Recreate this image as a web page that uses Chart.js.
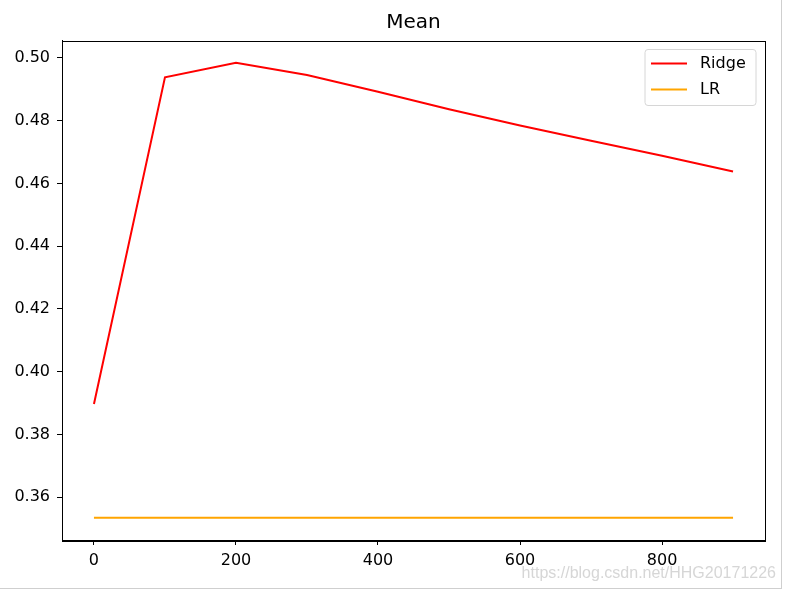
<!DOCTYPE html>
<html>
<head>
<meta charset="utf-8">
<script src="https://cdn.jsdelivr.net/npm/chart.js@4.4.0/dist/chart.umd.min.js"></script>
<style>
html,body{margin:0;padding:0;background:#fff;}
#wrap{position:relative;width:785px;height:590px;}
#wrap:after{content:"";position:absolute;left:0;top:0;width:781px;height:588px;border-right:1px solid #cfcfcf;border-bottom:1px solid #cfcfcf;pointer-events:none;}
canvas{display:block;}
</style>
</head>
<body>
<div id="wrap"><canvas id="c" width="785" height="590"></canvas></div>
<script>
const xValues = [0, 100, 200, 300, 400, 500, 600, 700, 800, 900];
const ridgeValues = [0.3897, 0.4938, 0.4984, 0.4945, 0.4892, 0.4836, 0.4784, 0.4736, 0.4688, 0.4638];
const lrValues = [0.3535, 0.3535, 0.3535, 0.3535, 0.3535, 0.3535, 0.3535, 0.3535, 0.3535, 0.3535];
const xTicks = [0, 200, 400, 600, 800];
const yTicks = [0.36, 0.38, 0.40, 0.42, 0.44, 0.46, 0.48, 0.50];
const seriesNames = ['Ridge', 'LR'];
const titleText = 'Mean';
const watermark = 'https://blog.csdn.net/HHG20171226';

const FONT = "'DejaVu Sans', sans-serif";

const framePlugin = {
  id: 'frame',
  afterDraw(chart) {
    const {ctx, chartArea: a} = chart;
    ctx.save();
    ctx.strokeStyle = '#000';
    ctx.lineWidth = 1;
    ctx.strokeRect(Math.round(a.left) + 0.5, Math.round(a.top) + 0.5, Math.round(a.right - a.left), Math.round(a.bottom - a.top));
    // legend
    const bx = 645, by = 49.5, bw = 111, bh = 56, r = 3;
    ctx.beginPath();
    ctx.moveTo(bx + r, by);
    ctx.lineTo(bx + bw - r, by); ctx.arcTo(bx + bw, by, bx + bw, by + r, r);
    ctx.lineTo(bx + bw, by + bh - r); ctx.arcTo(bx + bw, by + bh, bx + bw - r, by + bh, r);
    ctx.lineTo(bx + r, by + bh); ctx.arcTo(bx, by + bh, bx, by + bh - r, r);
    ctx.lineTo(bx, by + r); ctx.arcTo(bx, by, bx + r, by, r);
    ctx.closePath();
    ctx.fillStyle = 'rgba(255,255,255,0.8)';
    ctx.fill();
    ctx.strokeStyle = '#d6d6d6';
    ctx.stroke();
    chart.data.datasets.forEach((ds, i) => {
      const y = 63.5 + i * 26;
      ctx.strokeStyle = ds.borderColor;
      ctx.lineWidth = 2;
      ctx.beginPath(); ctx.moveTo(651, y); ctx.lineTo(687, y); ctx.stroke();
      ctx.fillStyle = '#000';
      ctx.font = '16px ' + FONT;
      ctx.textBaseline = 'middle';
      ctx.textAlign = 'left';
      ctx.fillText(ds.label, 700, y);
    });
    // watermark
    ctx.font = '16px "Liberation Sans", Arial, sans-serif';
    ctx.fillStyle = 'rgba(200,200,200,0.75)';
    ctx.textAlign = 'right';
    ctx.textBaseline = 'alphabetic';
    ctx.fillText(watermark, 776, 578);
    ctx.restore();
  }
};

new Chart(document.getElementById('c'), {
  type: 'line',
  data: {
    datasets: [
      {label: seriesNames[0], data: xValues.map((x, i) => ({x, y: ridgeValues[i]})), borderColor: '#ff0000', borderWidth: 2, pointRadius: 0, tension: 0, fill: false},
      {label: seriesNames[1], data: xValues.map((x, i) => ({x, y: lrValues[i]})), borderColor: '#ffa500', borderWidth: 2, pointRadius: 0, tension: 0, fill: false}
    ]
  },
  options: {
    responsive: false,
    animation: false,
    devicePixelRatio: 1,
    layout: {padding: {left: 0, right: 20, top: 0, bottom: 0}},
    plugins: {
      legend: {display: false},
      tooltip: {enabled: false},
      title: {display: true, fullSize: false, text: titleText, color: '#000', font: {family: FONT, size: 20, weight: 'normal'}, padding: {top: 11, bottom: 5.5}}
    },
    scales: {
      x: {
        type: 'linear', min: -45, max: 945,
        afterBuildTicks(s) { s.ticks = xTicks.map(v => ({value: v})); },
        afterFit(s) { s.height = 50; },
        grid: {display: true, drawOnChartArea: false, drawTicks: true, tickLength: 5, tickColor: '#000', tickWidth: 1},
        border: {display: true, color: '#000', width: 1},
        ticks: {color: '#000', padding: 6, maxRotation: 0, font: {family: FONT, size: 16}, callback: v => String(v)}
      },
      y: {
        type: 'linear', min: 0.3464, max: 0.5055,
        afterBuildTicks(s) { s.ticks = yTicks.map(v => ({value: v})); },
        afterFit(s) { s.width = 62; },
        grid: {display: true, drawOnChartArea: false, drawTicks: true, tickLength: 5, tickColor: '#000', tickWidth: 1},
        border: {display: true, color: '#000', width: 1},
        ticks: {color: '#000', padding: 7, font: {family: FONT, size: 16}, callback: v => v.toFixed(2)}
      }
    }
  },
  plugins: [framePlugin]
});
</script>
</body>
</html>
